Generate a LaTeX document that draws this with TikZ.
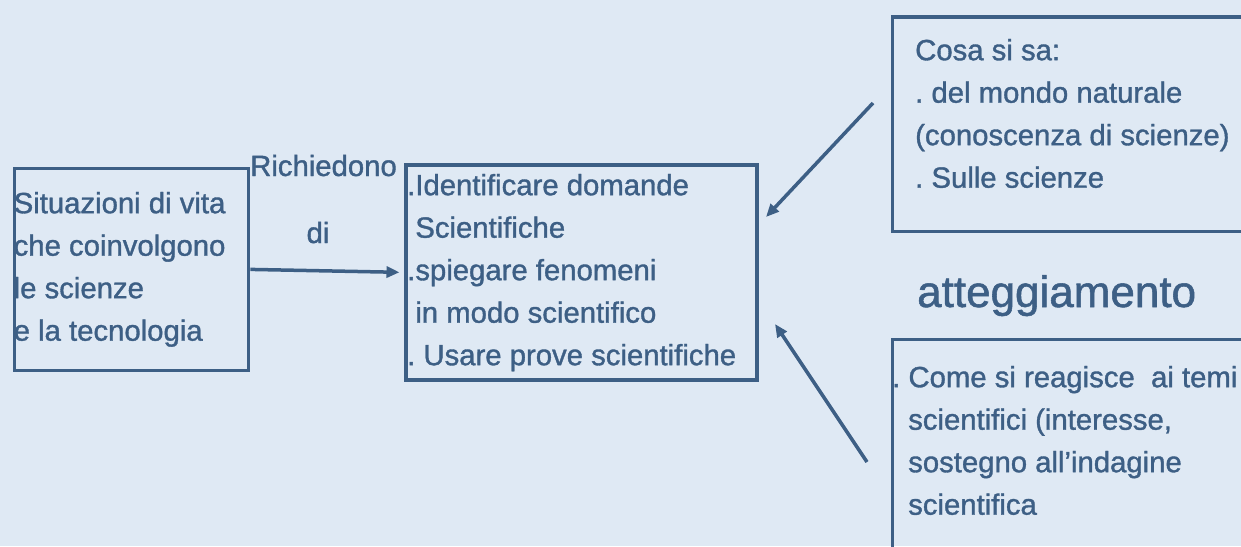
\documentclass[tikz,border=0pt]{standalone}
\usepackage{fontspec}
\setmainfont{Liberation Sans}[FakeBold=1.2]
\usetikzlibrary{arrows.meta}
\definecolor{pisabg}{RGB}{223,233,244}
\definecolor{pisablue}{RGB}{61,95,133}
\frenchspacing
\tikzset{
	frame/.style={draw=pisablue, line width=3.8pt, inner sep=0pt, anchor=north west},
	txt/.style={text=pisablue, inner sep=0pt, anchor=north west, align=left, font=\fontsize{29.3}{42.5}\selectfont},
	lab/.style={text=pisablue, inner sep=0pt, font=\fontsize{29.3}{42.5}\selectfont},
	arr/.style={draw=pisablue, line width=3.5pt, -{Triangle[length=13pt,width=11pt]}}
}

\begin{document}
\begin{tikzpicture}[x=1pt,y=1pt,yscale=-1,xscale=1]
				%background, set diagram to 1241 x 546
				\path[use as bounding box, fill=pisabg] (0,0) rectangle (1241,546);
				\clip (0,0) rectangle (1241,546);

				%Shape: Rectangle [situazioni]
				\node[frame, minimum width=234pt, minimum height=202pt] (sit) at (12.5,166.5) {};
				%Shape: Rectangle [compiti]
				\node[frame, minimum width=351pt, minimum height=215pt] (task) at (404,163) {};
				%Shape: Rectangle [conoscenza], runs off the right edge
				\node[frame, minimum width=400pt, minimum height=214.5pt] (know) at (890.5,15) {};
				%Shape: Rectangle [atteggiamento], runs off the right and bottom edge
				\node[frame, minimum width=400pt, minimum height=260pt] (react) at (890.5,337.5) {};

				% Text Node
				\node[txt] (sittxt) at (13.5,183.25) {\strut Situazioni di vita\\che coinvolgono\\le scienze\\e la tecnologia};
				% Text Node
				\node[txt] (tasktxt) at (407,165.25) {\strut .Identificare domande\\\ Scientifiche\\.spiegare fenomeni\\\ in modo scientifico\\. Usare prove scientifiche};
				% Text Node
				\node[txt] (knowtxt) at (915,30.25) {\strut Cosa si sa:\\. del mondo naturale\\(conoscenza di scienze)\\. Sulle scienze};
				% Text Node
				\node[txt] (reacttxt) at (892,357.25) {\strut . Come si reagisce\ \ ai temi\\\hspace*{16pt}scientifici (interesse,\\\hspace*{16pt}sostegno all’indagine\\\hspace*{16pt}scientifica};
				% Text Node
				\node[lab, anchor=base west] (req) at (250,176) {Richiedono};
				% Text Node
				\node[lab, anchor=base] (reqdi) at (318,243) {di};
				% Text Node
				\node[lab, anchor=base west, font=\fontsize{44}{52}\selectfont] (att) at (917,307) {atteggiamento};

				%Straight Lines [richiedono di]
				\draw[arr, shorten >=4.5pt] (sit.east) -- (task.west);
				%Straight Lines [conoscenza]
				\coordinate (knowtail) at (873,103);
				\coordinate (knowtip) at (766,217);
				\draw[arr] (knowtail) -- (knowtip);
				%Straight Lines [atteggiamento]
				\coordinate (reacttail) at (867,462);
				\coordinate (reacttip) at (775,324);
				\draw[arr] (reacttail) -- (reacttip);

		\end{tikzpicture}
\end{document}
